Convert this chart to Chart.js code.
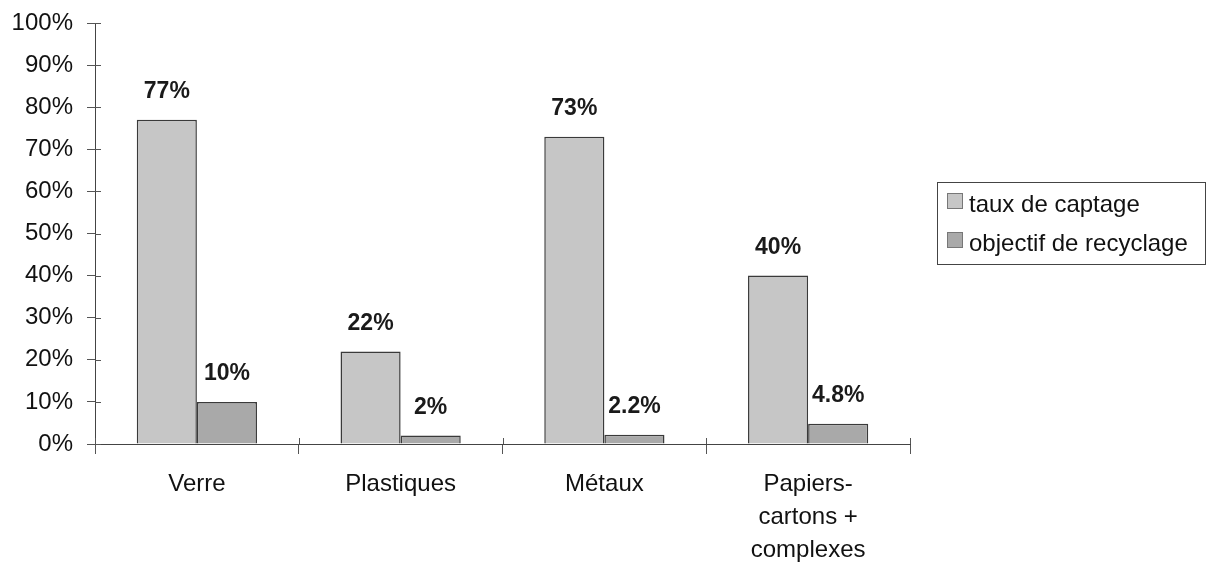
<!DOCTYPE html>
<html>
<head>
<meta charset="utf-8">
<script src="https://cdn.jsdelivr.net/npm/chart.js@4.4.1/dist/chart.umd.min.js"></script>
<style>
  html, body { margin: 0; padding: 0; background: #ffffff; }
  #wrap { position: relative; width: 1207px; height: 564px; }
</style>
</head>
<body>
<div id="wrap"><canvas id="c" width="1207" height="564"></canvas></div>
<script>
// Collection rate vs recycling target, by material
const categories = ['Verre', 'Plastiques', 'Métaux', ['Papiers-', 'cartons +', 'complexes']];
const seriesNames = ['taux de captage', 'objectif de recyclage'];
const tauxCaptage = [77, 22, 73, 40];
const objectifRecyclage = [10, 2, 2.2, 4.8];
const yTicks = [0, 10, 20, 30, 40, 50, 60, 70, 80, 90, 100];

const FONT = '"Liberation Sans", Arial, sans-serif';
const fills = ['#c6c6c6', '#a9a9a9'];
const edge = '#3a3a3a';

// Short tick marks crossing the axes, value labels above bars, and the boxed legend
const decorations = {
  id: 'decorations',
  afterDraw(chart) {
    const ctx = chart.ctx;
    const xs = chart.scales.x, ys = chart.scales.y;
    ctx.save();
    ctx.strokeStyle = '#555';
    ctx.lineWidth = 1;
    ctx.beginPath();
    ys.ticks.forEach((t, i) => {
      const y = Math.round(ys.getPixelForTick(i)) + 0.5;
      ctx.moveTo(xs.left, y); ctx.lineTo(xs.left + 6, y);
    });
    for (let i = 0; i <= categories.length; i++) {
      const x = Math.round(xs.getPixelForValue(i - 0.5)) + 0.5;
      ctx.moveTo(x, ys.bottom); ctx.lineTo(x, ys.bottom - 6);
    }
    ctx.stroke();

    // value labels
    ctx.fillStyle = '#1a1a1a';
    ctx.font = 'bold 23px ' + FONT;
    ctx.textAlign = 'center';
    ctx.textBaseline = 'middle';
    chart.data.datasets.forEach((ds, di) => {
      const meta = chart.getDatasetMeta(di);
      meta.data.forEach((el, i) => {
        ctx.fillText(ds.data[i] + '%', el.x, el.y - 28);
      });
    });

    // legend box
    const lx = 937, ly = 182, lw = 268, lh = 82;
    ctx.strokeStyle = '#444';
    ctx.lineWidth = 1;
    ctx.strokeRect(lx + 0.5, ly + 0.5, lw, lh);
    ctx.font = '24px ' + FONT;
    ctx.textAlign = 'left';
    ctx.textBaseline = 'alphabetic';
    chart.data.datasets.forEach((ds, di) => {
      const base = 212 + di * 39;
      ctx.fillStyle = ds.backgroundColor;
      ctx.fillRect(947, base - 19, 16, 16);
      ctx.strokeStyle = '#777';
      ctx.strokeRect(947.5, base - 18.5, 15, 15);
      ctx.fillStyle = '#111';
      ctx.fillText(ds.label, 969, base);
    });
    ctx.restore();
  }
};

new Chart(document.getElementById('c'), {
  type: 'bar',
  data: {
    labels: categories,
    datasets: [
      { label: seriesNames[0], data: tauxCaptage, backgroundColor: fills[0], borderColor: edge, borderWidth: 1.5 },
      { label: seriesNames[1], data: objectifRecyclage, backgroundColor: fills[1], borderColor: edge, borderWidth: 1.5 }
    ]
  },
  options: {
    responsive: false,
    animation: false,
    events: [],
    layout: { padding: { left: 0, right: 297, top: 23, bottom: 0 } },
    datasets: { bar: { categoryPercentage: 0.59, barPercentage: 1.0 } },
    plugins: { legend: { display: false }, tooltip: { enabled: false } },
    scales: {
      x: {
        offset: true,
        grid: { offset: true, drawOnChartArea: false, drawTicks: true, tickLength: 10, color: '#555' },
        border: { display: true, color: '#444', width: 1 },
        ticks: { color: '#111', font: { family: FONT, size: 24, lineHeight: 1.375 }, padding: 14, maxRotation: 0, autoSkip: false },
        afterFit(s) { s.height = 120; s.paddingLeft = 0; s.paddingRight = 0; }
      },
      y: {
        min: 0, max: 100,
        afterBuildTicks(s) { s.ticks = yTicks.map(v => ({ value: v })); },
        grid: { drawOnChartArea: false, drawTicks: true, tickLength: 8, color: '#555' },
        border: { display: true, color: '#444', width: 1 },
        ticks: { color: '#111', font: { family: FONT, size: 24 }, padding: 14, callback: v => v + '%' },
        afterFit(s) { s.width = 95; s.paddingTop = 0; s.paddingBottom = 0; }
      }
    }
  },
  plugins: [decorations]
});
</script>
</body>
</html>
